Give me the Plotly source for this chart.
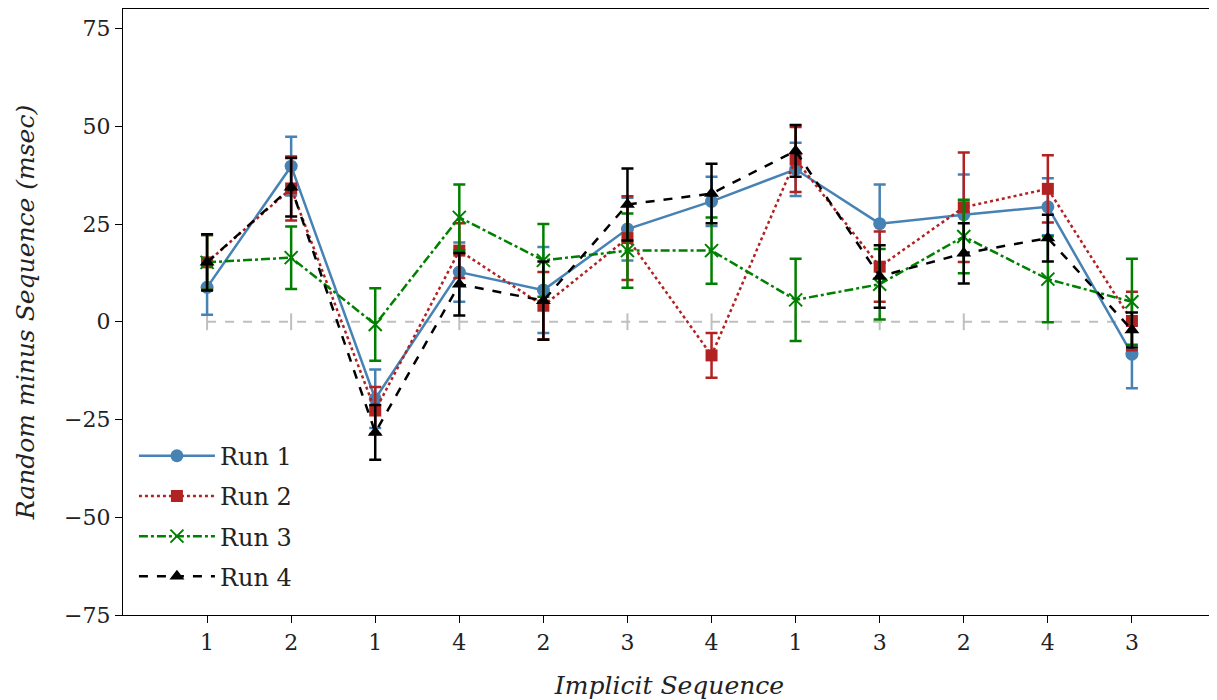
import plotly.graph_objects as go

# x tick labels (implicit sequence positions)
seq_labels = ['1', '2', '1', '4', '2', '3', '4', '1', '3', '2', '4', '3']
x_pos = list(range(len(seq_labels)))

run1 = [8.8, 39.8, -19.7, 12.7, 8.1, 23.7, 30.8, 39.0, 25.1, 27.4, 29.4, -8.3]
run1_err = [7.0, 7.5, 7.5, 7.6, 11.0, 8.0, 6.3, 6.8, 10.0, 10.3, 7.3, 8.7]

run2 = [15.2, 34.1, -22.7, 18.2, 4.1, 21.4, -8.6, 41.5, 14.1, 29.3, 34.0, 0.2]
run2_err = [7.0, 8.2, 6.0, 7.0, 8.6, 10.7, 5.7, 8.3, 9.0, 14.0, 8.6, 7.5]

run3 = [15.2, 16.4, -0.7, 26.7, 15.7, 18.2, 18.2, 5.6, 9.6, 21.8, 10.9, 5.1]
run3_err = [7.0, 8.0, 9.3, 8.4, 9.3, 9.5, 8.5, 10.5, 9.0, 9.4, 11.0, 11.0]

run4 = [15.2, 34.4, -28.3, 9.6, 5.4, 30.0, 32.8, 43.7, 11.6, 17.5, 21.4, -2.1]
run4_err = [7.2, 7.5, 7.0, 8.0, 10.0, 9.2, 7.6, 6.6, 8.0, 7.7, 6.0, 4.5]

zero_line = [0] * len(seq_labels)

serif = 'DejaVu Serif'

fig = go.Figure()

# zero reference line with small gray ticks at each position
fig.add_trace(go.Scatter(
    x=x_pos, y=zero_line, mode='lines+markers',
    line=dict(color='#bfbfbf', width=2, dash='dash'),
    marker=dict(symbol='line-ns', size=12, line=dict(color='#bfbfbf', width=2)),
    showlegend=False, hoverinfo='skip'
))

series = [
    ('Run 1', run1, run1_err, '#4682B4', 'solid', 'circle', 13),
    ('Run 2', run2, run2_err, '#B22222', 'dot', 'square', 12),
    ('Run 3', run3, run3_err, '#008000', 'dashdot', 'x-thin', 13),
    ('Run 4', run4, run4_err, '#000000', 'dash', 'triangle-up', 13),
]

for name, vals, errs, color, dash, symbol, size in series:
    marker = dict(symbol=symbol, size=size, color=color)
    if symbol == 'x-thin':
        marker['line'] = dict(color=color, width=2)
    fig.add_trace(go.Scatter(
        x=x_pos, y=vals, name=name, legendgroup=name,
        mode='lines+markers',
        line=dict(color=color, width=2.5, dash=dash),
        marker=marker,
        error_y=dict(type='data', array=errs, color=color, thickness=2.5, width=6)
    ))

fig.update_layout(
    width=1209, height=692,
    margin=dict(l=115, r=1, t=1, b=85),
    plot_bgcolor='white', paper_bgcolor='white',
    font=dict(family=serif, size=22, color='#222222'),
    legend=dict(
        x=0.01, y=0.027, xanchor='left', yanchor='bottom',
        bgcolor='rgba(255,255,255,0)', font=dict(family=serif, size=24),
        tracegroupgap=6, itemwidth=76
    ),
    showlegend=True
)

fig.update_xaxes(
    range=[-1, 12], tickmode='array', tickvals=x_pos, ticktext=seq_labels,
    showgrid=False, zeroline=False, showline=True, linecolor='black', linewidth=1.2,
    mirror=True, ticks='outside', ticklen=7, tickcolor='black',
    tickfont=dict(family=serif, size=22),
    title=dict(text='<i>Implicit Sequence</i>', font=dict(family=serif, size=25), standoff=22)
)
fig.update_yaxes(
    range=[-75, 80], tickvals=[-75, -50, -25, 0, 25, 50, 75],
    ticktext=['\u221275', '\u221250', '\u221225', '0', '25', '50', '75'],
    showgrid=False, zeroline=False, showline=True, linecolor='black', linewidth=1.2,
    mirror=True, ticks='outside', ticklen=7, tickcolor='black',
    tickfont=dict(family=serif, size=22),
    title=dict(text='<i>Random minus Sequence (msec)</i>', font=dict(family=serif, size=25), standoff=22)
)

fig.write_html("out.html")
